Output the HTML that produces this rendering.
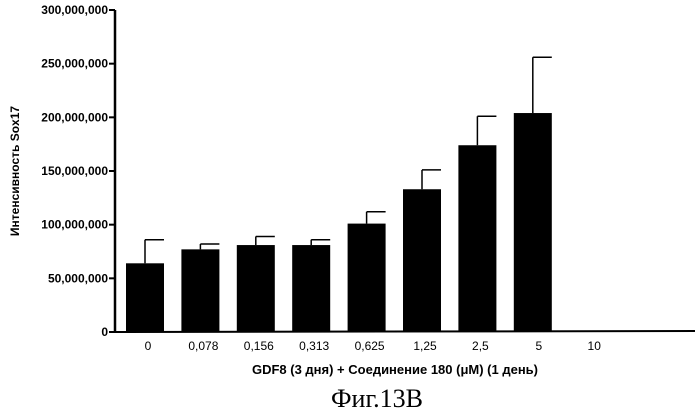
<!DOCTYPE html>
<html><head><meta charset="utf-8"><style>
body{margin:0;background:#fff;width:700px;height:413px;overflow:hidden}
svg{display:block}
</style></head><body>
<svg width="700" height="413" id="chart">
<text transform="translate(19,171) rotate(-90)" text-anchor="middle" font-family="Liberation Sans, sans-serif" font-weight="bold" font-size="12">Интенсивность Sox17</text>
<text x="395" y="374" text-anchor="middle" font-family="Liberation Sans, sans-serif" font-weight="bold" font-size="13">GDF8 (3 дня) + Соединение 180 (μM) (1 день)</text>
<text x="377" y="407" text-anchor="middle" font-family="Liberation Serif, serif" font-size="26">Фиг.13В</text>
</svg>
<script>
const categories=["0","0,078","0,156","0,313","0,625","1,25","2,5","5","10"];
const values=[64,77,81,81,101,133,174,204,1];
const errors=[22,5,8,5,11,18,27,52,0];
const yTicks=[0,50,100,150,200,250,300];
const yTickLabels=["0","50,000,000","100,000,000","150,000,000","200,000,000","250,000,000","300,000,000"];
const svg=document.getElementById('chart');
const NS='http://www.w3.org/2000/svg';
const y0=332,y1=10,vmax=300,xAxis=115,x0=145,step=55.4,bw=38;
const y=v=>y0-(v/vmax)*(y0-y1);
const x=i=>x0+i*step;
function mk(t,a){const e=document.createElementNS(NS,t);for(const k in a)e.setAttribute(k,a[k]);svg.appendChild(e);return e;}
let e=mk('line',{x1:xAxis,y1:y1,x2:xAxis,y2:y0,stroke:'#000','stroke-width':2.5});


e=mk('line',{x1:xAxis,y1:y0,x2:695,y2:y0-1,stroke:'#000','stroke-width':2});


yTicks.forEach((v,i)=>{
 let t=mk('line',{x1:xAxis-6,y1:y(v),x2:xAxis,y2:y(v),stroke:'#000','stroke-width':2});
 
 
 let l=mk('text',{x:xAxis-7,y:y(v)+4,'text-anchor':'end','font-family':'Liberation Sans, sans-serif','font-weight':'bold','font-size':12});
 l.textContent=yTickLabels[i];
 
 
});
categories.forEach((c,i)=>{
 const cx=x(i);
 if(errors[i]>0){
  let el=mk('line',{x1:cx,y1:y(values[i]),x2:cx,y2:y(values[i]+errors[i]),stroke:'#000','stroke-width':1.5});
  
  
  let cap=mk('line',{x1:cx,y1:y(values[i]+errors[i]),x2:cx+bw/2,y2:y(values[i]+errors[i]),stroke:'#000','stroke-width':1.5});
  
  
 }
 let r=mk('rect',{x:cx-bw/2,y:y(values[i]),width:bw,height:y0-y(values[i]),fill:'#000'});
 
 
 let l=mk('text',{x:cx+(i>=7?6:3),y:350,'text-anchor':'middle','font-family':'Liberation Sans, sans-serif','font-size':12});
 l.textContent=c;
 
 
});
</script>
</body></html>
